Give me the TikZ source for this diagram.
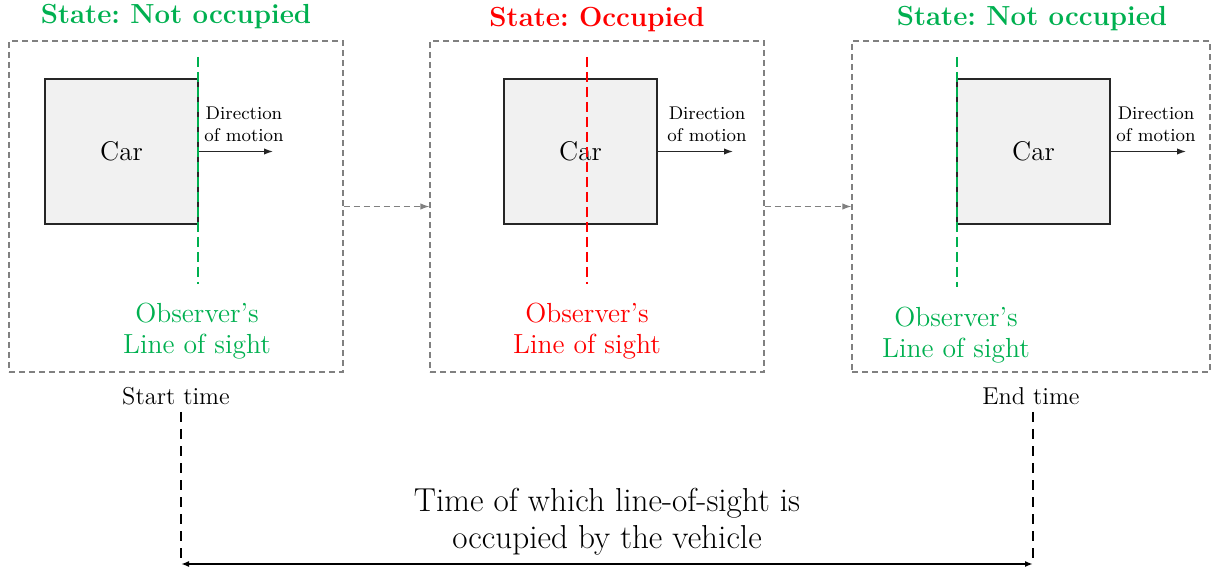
\documentclass[tikz,border=0pt]{standalone}
\usepackage{fontspec}
\usetikzlibrary{arrows.meta}
\definecolor{losgreen}{RGB}{0,176,80}
\definecolor{losred}{RGB}{255,0,0}
\definecolor{framegray}{RGB}{128,128,128}
\definecolor{carfill}{RGB}{241,241,241}
\frenchspacing
\begin{document}
\begin{tikzpicture}[x=0.5pt,y=-0.5pt,
  frame/.style={draw=framegray,line width=0.6pt,dash pattern=on 3pt off 2pt,rectangle,inner sep=0pt,minimum height=165.5pt},
  carbox/.style={draw=black!85,fill=carfill,line width=0.7pt,rectangle,inner sep=0pt,minimum width=76.5pt,minimum height=72.5pt,font=\fontsize{13.5}{15}\selectfont},
  motion/.style={draw=black!85,line width=0.6pt,-{Latex[length=4.5pt,width=3.2pt]}},
  dirtext/.style={align=center,font=\fontsize{9.2}{11}\selectfont,inner sep=0pt},
  losline/.style={line width=1pt,dash pattern=on 5pt off 2.5pt},
  obstext/.style={align=center,font=\fontsize{13.8}{15.5}\selectfont,inner sep=0pt},
  titletext/.style={font=\fontsize{13.8}{16}\selectfont\bfseries,inner sep=0pt},
  flow/.style={draw=framegray,line width=0.6pt,dash pattern=on 3pt off 2pt,-{Latex[length=4.5pt,width=3.2pt]}},
  timetext/.style={font=\fontsize{12.2}{14}\selectfont,inner sep=0pt},
  marker/.style={draw=black,line width=0.9pt,dash pattern=on 5pt off 3.5pt},
  span/.style={draw=black,line width=0.9pt,{Latex[length=4pt,width=3pt]}-{Latex[length=4pt,width=3pt]}},
  bigtext/.style={align=center,font=\fontsize{16.6}{18.5}\selectfont,inner sep=0pt}
]
\useasboundingbox (0,0) rectangle (1211,572);

% frames
\node[frame,minimum width=167pt] (f1) at (176,206.5) {};
\node[frame,minimum width=167pt] (f2) at (597,206.5) {};
\node[frame,minimum width=179pt] (f3) at (1031,206.5) {};

% titles
\node[titletext,text=losgreen] (t1) at (176,17) {State: Not occupied};
\node[titletext,text=losred] (t2) at (597,20) {State: Occupied};
\node[titletext,text=losgreen] (t3) at (1032,19) {State: Not occupied};

% cars
\node[carbox] (car1) at (121.5,151.5) {Car};
\node[carbox] (car2) at (580.5,151.5) {Car};
\node[carbox] (car3) at (1033.5,151.5) {Car};

% motion arrows
\coordinate (m1) at (273,151.5);
\coordinate (m2) at (733,151.5);
\coordinate (m3) at (1186,151.5);
\draw[motion] (car1.east) -- (m1);
\draw[motion] (car2.east) -- (m2);
\draw[motion] (car3.east) -- (m3);
\node[dirtext] (d1) at (244,124) {Direction\\of motion};
\node[dirtext] (d2) at (707,124) {Direction\\of motion};
\node[dirtext] (d3) at (1156,124) {Direction\\of motion};

% lines of sight
\coordinate (l1t) at (198,57);
\coordinate (l1b) at (198,284);
\coordinate (l2t) at (587,57);
\coordinate (l2b) at (587,284);
\coordinate (l3t) at (957,57);
\coordinate (l3b) at (957,287);
\draw[losline,draw=losgreen] (l1t) -- (l1b);
\draw[losline,draw=losred] (l2t) -- (l2b);
\draw[losline,draw=losgreen] (l3t) -- (l3b);

\node[obstext,text=losgreen] (o1) at (197,331) {Observer's\\Line of sight};
\node[obstext,text=losred] (o2) at (587,331) {Observer's\\Line of sight};
\node[obstext,text=losgreen] (o3) at (956,335) {Observer's\\Line of sight};

% flow arrows
\draw[flow] (f1.east) -- (f2.west);
\draw[flow] (f2.east) -- (f3.west);

% time markers
\node[timetext] (st) at (176,396) {Start time};
\node[timetext] (et) at (1031,396) {End time};
\coordinate (a1) at (181,412);
\coordinate (a2) at (181,564);
\coordinate (b1) at (1033,412);
\coordinate (b2) at (1033,564);
\draw[marker] (a1) -- (a2);
\draw[marker] (b1) -- (b2);
\draw[span] (a2) -- (b2);
\node[bigtext] (tt) at (607,522) {Time of which line-of-sight is\\occupied by the vehicle};
\end{tikzpicture}
\end{document}
